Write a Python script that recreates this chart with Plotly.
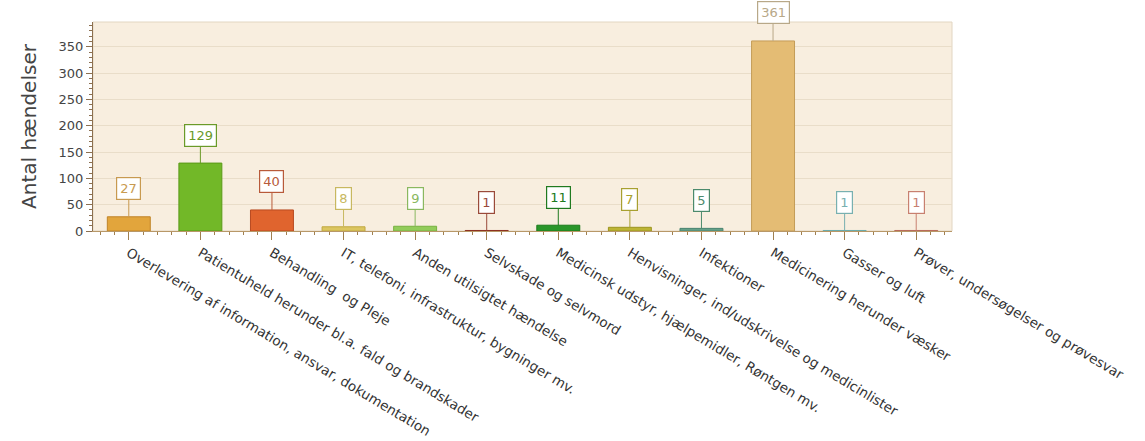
import plotly.graph_objects as go

categories = [
    "Overlevering af information, ansvar, dokumentation",
    "Patientuheld herunder bl.a. fald og brandskader",
    "Behandling  og Pleje",
    "IT, telefoni, infrastruktur, bygninger mv.",
    "Anden utilsigtet hændelse",
    "Selvskade og selvmord",
    "Medicinsk udstyr, hjælpemidler, Røntgen mv.",
    "Henvisninger, ind/udskrivelse og medicinlister",
    "Infektioner",
    "Medicinering herunder væsker",
    "Gasser og luft",
    "Prøver, undersøgelser og prøvesvar",
]
values = [27, 129, 40, 8, 9, 1, 11, 7, 5, 361, 1, 1]

bar_colors = ["#E2A53C", "#72B828", "#E0642E", "#DCC660", "#92CC5A", "#A84838",
              "#2A962A", "#BCB434", "#64A088", "#E4BC74", "#8CC8C8", "#D88C7C"]
line_colors = ["#C08428", "#5A9A18", "#B84A20", "#C0A840", "#78B040", "#8C3020",
               "#1A7A1A", "#9C9420", "#4A8470", "#C49C58", "#6AAAAA", "#B86A5A"]
label_colors = ["#C89A50", "#6A9A28", "#B85A3A", "#C8B860", "#8AB860", "#9A4A3A",
                "#207A20", "#A8A030", "#4C8A6C", "#B8A888", "#78B0B0", "#C88070"]

x_idx = list(range(len(categories)))

fig = go.Figure()
fig.add_trace(go.Bar(
    x=x_idx, y=values, width=0.6,
    marker=dict(color=bar_colors, line=dict(color=line_colors, width=1)),
    showlegend=False,
))

for i, v in enumerate(values):
    fig.add_annotation(
        x=i, y=v, xref="x", yref="y",
        text=str(v), showarrow=True, arrowhead=0, arrowwidth=1,
        arrowcolor=label_colors[i], ax=0, ay=-28,
        bordercolor=label_colors[i], borderwidth=1.2, borderpad=3,
        bgcolor="white",
        font=dict(family="DejaVu Sans", size=13, color=label_colors[i]),
    )

fig.update_layout(
    width=1145, height=441,
    margin=dict(l=93, r=193, t=22, b=210),
    paper_bgcolor="white",
    plot_bgcolor="#F8EEDF",
    font=dict(family="DejaVu Sans", color="#444444"),
    bargap=0.4,
)

fig.update_xaxes(
    range=[-0.5, 11.5], automargin=False,
    tickmode="array", tickvals=x_idx, ticktext=categories,
    tickangle=31,
    tickfont=dict(family="DejaVu Sans", size=13.5, color="#333333"),
    ticks="outside", ticklen=8, tickcolor="#A08050",
    showline=True, linecolor="#B89868", linewidth=1, mirror=False,
    showgrid=False, zeroline=False,
    minor=dict(dtick=0.2, tick0=0, ticks="outside", ticklen=3, tickcolor="#A08050", showgrid=False),
)
fig.update_yaxes(
    range=[0, 397], automargin=False,
    tickmode="array", tickvals=[0, 50, 100, 150, 200, 250, 300, 350],
    tickfont=dict(family="DejaVu Sans", size=13, color="#444444"),
    ticks="outside", ticklen=6, tickcolor="#8C7050",
    showline=True, linecolor="#8C7050", linewidth=1,
    showgrid=True, gridcolor="#E9DDC9", gridwidth=1, zeroline=False,
    minor=dict(dtick=10, tick0=0, ticks="outside", ticklen=3, tickcolor="#8C7050", showgrid=False),
    title=dict(text="Antal hændelser", font=dict(family="DejaVu Sans", size=20, color="#444444"), standoff=16),
)

# light frame on top/right
fig.add_shape(type="rect", xref="paper", yref="paper", x0=0, y0=0, x1=1, y1=1,
              line=dict(color="#E2D6C2", width=1), layer="below")

fig.write_html("out.html")
